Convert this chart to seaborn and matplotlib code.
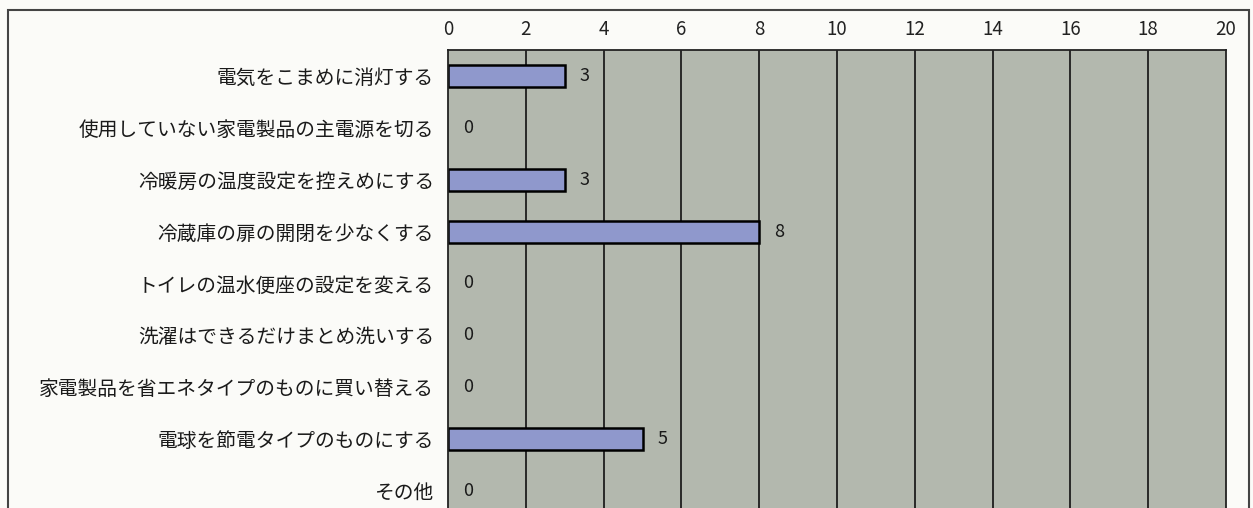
import matplotlib
matplotlib.use("Agg")
import matplotlib.pyplot as plt
from matplotlib.patches import Rectangle
import numpy as np
import pandas as pd
import seaborn as sns

# --- datos ---
categorias = [
    "電気をこまめに消灯する",
    "使用していない家電製品の主電源を切る",
    "冷暖房の温度設定を控えめにする",
    "冷蔵庫の扉の開閉を少なくする",
    "トイレの温水便座の設定を変える",
    "洗濯はできるだけまとめ洗いする",
    "家電製品を省エネタイプのものに買い替える",
    "電球を節電タイプのものにする",
    "その他",
]
valores = [3, 0, 3, 8, 0, 0, 0, 5, 0]
ticks_x = [0, 2, 4, 6, 8, 10, 12, 14, 16, 18, 20]

df = pd.DataFrame({"item": categorias, "n": valores})

sns.set_style("white")
plt.rcParams["font.family"] = ["Noto Sans CJK JP", "DejaVu Sans"]

W, H = 1253, 508
fig = plt.figure(figsize=(W / 100, H / 100), dpi=100)
fig.patch.set_facecolor("#fbfbf8")

# marco exterior
fig.patches.append(Rectangle((8 / W, -0.1), (1249 - 8) / W, 1.1 - 10 / H,
                             transform=fig.transFigure, fill=False,
                             edgecolor="#444444", linewidth=1.5))

ax = fig.add_axes([448 / W, -9 / H, (1226 - 448) / W, (517 - 50) / H])
ax.set_facecolor("#b3b8ae")

sns.barplot(data=df, x="n", y="item", orient="h", color="#8f98cc",
            edgecolor="black", linewidth=1.8, width=0.42, saturation=1, ax=ax)

# barras con valor 0: sin borde
for p, v in zip(ax.patches, valores):
    if v == 0:
        p.set_visible(False)

ax.set_xlim(0, 20)
ax.set_ylim(len(categorias) - 0.5, -0.5)
ax.set_xticks(ticks_x)
ax.xaxis.tick_top()
ax.tick_params(axis="x", length=0, pad=7, labelsize=13.5, labelcolor="#222222")
ax.tick_params(axis="y", length=0, pad=10, labelsize=14.2, labelcolor="#1a1a1a")
ax.set_yticks(np.arange(len(categorias) - 1) + 0.5, minor=True)
ax.tick_params(axis="y", which="minor", length=4, width=1, color="#555555", direction="inout")
ax.set_xlabel("")
ax.set_ylabel("")

for x in ticks_x[1:-1]:
    ax.axvline(x, color="#111111", linewidth=1.2, zorder=0.5)
ax.set_axisbelow(True)

for s in ["top", "left", "right", "bottom"]:
    ax.spines[s].set_visible(True)
    ax.spines[s].set_color("#222222")
    ax.spines[s].set_linewidth(1.3)

for i, v in enumerate(valores):
    ax.text(v + 0.52, i, str(v), ha="center", va="center", fontsize=13, color="#1a1a1a")

plt.savefig("out.png", dpi=100, facecolor=fig.get_facecolor())
